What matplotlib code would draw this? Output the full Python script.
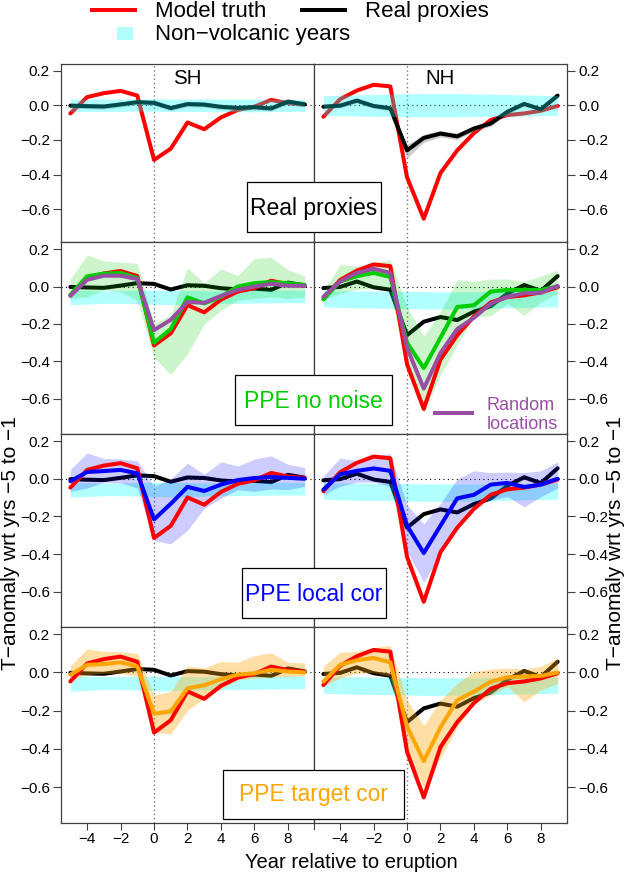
import matplotlib
matplotlib.use("Agg")
import matplotlib.pyplot as plt
from matplotlib.lines import Line2D
from matplotlib.patches import Rectangle
from matplotlib.ticker import FuncFormatter

plt.rcParams['font.family'] = ['Liberation Sans', 'DejaVu Sans']

# ---------------- data ----------------
years = [-5, -4, -3, -2, -1, 0, 1, 2, 3, 4, 5, 6, 7, 8, 9]

truth_sh = [-0.047, 0.047, 0.070, 0.083, 0.056, -0.315, -0.250, -0.099, -0.138, -0.070, -0.027, -0.008, 0.031, 0.012, 0.004]
truth_nh = [-0.066, 0.035, 0.085, 0.118, 0.109, -0.415, -0.654, -0.390, -0.260, -0.160, -0.085, -0.056, -0.047, -0.031, -0.004]

proxy_sh = [-0.002, -0.005, -0.007, 0.005, 0.018, 0.014, -0.016, 0.007, 0.004, -0.009, -0.015, -0.011, -0.018, 0.021, 0.006]
proxy_nh = [-0.008, -0.002, 0.027, -0.004, -0.017, -0.260, -0.188, -0.163, -0.179, -0.134, -0.105, -0.037, 0.008, -0.023, 0.056]
proxy_sh_lo = [-0.017, -0.020, -0.022, -0.010, 0.003, -0.001, -0.031, -0.008, -0.011, -0.024, -0.030, -0.026, -0.033, 0.006, -0.009]
proxy_sh_hi = [0.013, 0.010, 0.008, 0.020, 0.033, 0.029, -0.001, 0.022, 0.019, 0.006, 0.000, 0.004, -0.003, 0.036, 0.021]
proxy_nh_lo = [-0.020, -0.015, 0.014, -0.017, -0.033, -0.305, -0.213, -0.183, -0.197, -0.150, -0.120, -0.050, -0.005, -0.036, 0.043]
proxy_nh_hi = [0.004, 0.011, 0.040, 0.009, -0.001, -0.225, -0.168, -0.145, -0.161, -0.118, -0.090, -0.024, 0.021, -0.010, 0.069]

# non-volcanic years band (top row)
nv_sh_top_hi = [0.035, 0.036, 0.036, 0.036, 0.037, 0.038, 0.036, 0.036, 0.037, 0.036, 0.035, 0.035, 0.034, 0.035, 0.033]
nv_sh_top_lo = [-0.035, -0.036, -0.036, -0.035, -0.033, -0.034, -0.037, -0.036, -0.035, -0.036, -0.037, -0.038, -0.037, -0.036, -0.035]
nv_nh_top_hi = [0.055, 0.058, 0.060, 0.062, 0.064, 0.066, 0.068, 0.068, 0.068, 0.066, 0.064, 0.062, 0.060, 0.058, 0.056]
nv_nh_top_lo = [-0.058, -0.060, -0.062, -0.063, -0.064, -0.066, -0.066, -0.066, -0.066, -0.065, -0.064, -0.063, -0.062, -0.060, -0.058]
# non-volcanic years band (PPE rows)
nv_sh_hi = [-0.020, -0.021, -0.022, -0.022, -0.020, -0.019, -0.020, -0.021, -0.022, -0.022, -0.021, -0.020, -0.020, -0.019, -0.020]
nv_sh_lo = [-0.098, -0.094, -0.090, -0.090, -0.092, -0.095, -0.096, -0.094, -0.092, -0.090, -0.090, -0.088, -0.087, -0.086, -0.086]
nv_nh_hi = [-0.022, -0.022, -0.023, -0.024, -0.025, -0.026, -0.027, -0.028, -0.028, -0.028, -0.027, -0.026, -0.025, -0.024, -0.023]
nv_nh_lo = [-0.108, -0.112, -0.114, -0.115, -0.116, -0.118, -0.120, -0.120, -0.119, -0.118, -0.116, -0.114, -0.112, -0.110, -0.108]

# PPE no noise
noise_sh = [-0.045, 0.055, 0.069, 0.073, 0.045, -0.300, -0.227, -0.058, -0.090, -0.055, 0.000, 0.018, 0.024, 0.018, 0.009]
noise_sh_lo = [-0.064, -0.055, -0.018, -0.027, -0.073, -0.380, -0.470, -0.360, -0.200, -0.127, -0.073, -0.064, -0.055, -0.064, -0.055]
noise_sh_hi = [0.040, 0.170, 0.136, 0.130, 0.124, -0.200, -0.150, 0.100, 0.018, 0.095, 0.058, 0.150, 0.155, 0.090, 0.058]
noise_nh = [-0.069, 0.027, 0.055, 0.073, 0.051, -0.300, -0.436, -0.273, -0.109, -0.100, -0.027, -0.018, -0.018, -0.018, 0.000]
noise_nh_lo = [-0.073, -0.036, -0.015, -0.010, -0.018, -0.455, -0.673, -0.473, -0.310, -0.164, -0.155, -0.091, -0.155, -0.082, -0.036]
noise_nh_hi = [-0.030, 0.118, 0.109, 0.130, 0.142, -0.109, -0.264, -0.136, 0.036, 0.027, 0.040, 0.040, 0.027, 0.055, 0.087]
# random locations
random_sh = [-0.050, 0.036, 0.058, 0.058, 0.040, -0.233, -0.178, -0.082, -0.087, -0.050, -0.018, 0.000, 0.015, 0.004, 0.004]
random_nh = [-0.055, 0.027, 0.073, 0.095, 0.073, -0.327, -0.545, -0.355, -0.227, -0.167, -0.091, -0.055, -0.036, -0.033, 0.004]

# PPE local cor
local_sh = [-0.013, 0.036, 0.041, 0.047, 0.029, -0.216, -0.133, -0.043, -0.065, -0.031, -0.007, 0.004, 0.009, 0.005, 0.000]
local_sh_lo = [-0.067, -0.049, -0.018, -0.022, -0.049, -0.328, -0.346, -0.274, -0.157, -0.103, -0.058, -0.067, -0.054, -0.058, -0.040]
local_sh_hi = [0.050, 0.137, 0.108, 0.105, 0.095, -0.040, 0.000, 0.083, 0.023, 0.090, 0.068, 0.105, 0.122, 0.077, 0.060]
local_nh = [-0.058, 0.024, 0.042, 0.055, 0.042, -0.249, -0.395, -0.249, -0.104, -0.085, -0.031, -0.022, -0.044, -0.031, 0.000]
local_nh_lo = [-0.085, -0.040, -0.018, -0.018, -0.040, -0.385, -0.550, -0.400, -0.258, -0.149, -0.113, -0.095, -0.149, -0.095, -0.049]
local_nh_hi = [0.015, 0.110, 0.096, 0.124, 0.133, -0.140, -0.240, -0.130, 0.000, 0.042, 0.033, 0.036, 0.033, 0.042, 0.090]

# PPE target cor
target_sh = [-0.012, 0.040, 0.044, 0.053, 0.032, -0.216, -0.204, -0.083, -0.067, -0.035, -0.012, -0.004, 0.014, 0.005, 0.000]
target_sh_lo = [-0.039, -0.012, -0.004, -0.004, -0.021, -0.313, -0.322, -0.198, -0.136, -0.083, -0.039, -0.030, -0.025, -0.021, -0.018]
target_sh_hi = [0.035, 0.124, 0.110, 0.108, 0.100, -0.119, -0.100, 0.035, 0.023, 0.058, 0.053, 0.088, 0.103, 0.053, 0.050]
target_nh = [-0.048, 0.040, 0.064, 0.076, 0.053, -0.283, -0.464, -0.287, -0.145, -0.100, -0.048, -0.025, -0.021, -0.018, 0.000]
target_nh_lo = [-0.074, -0.030, -0.004, 0.000, -0.021, -0.410, -0.605, -0.446, -0.287, -0.163, -0.119, -0.074, -0.154, -0.092, -0.057]
target_nh_hi = [0.032, 0.106, 0.110, 0.130, 0.142, -0.145, -0.278, -0.145, -0.057, 0.005, 0.018, 0.023, 0.018, 0.032, 0.076]

row_labels = ["Real proxies", "PPE no noise", "PPE local cor", "PPE target cor"]
hemi_labels = ["SH", "NH"]
xticks = [-4, -2, 0, 2, 4, 6, 8]
yticks = [0.2, 0.0, -0.2, -0.4, -0.6]

# ---------------- styles ----------------
C_RED = "#FF0000"
C_GREEN = "#00CD00"
C_PURPLE = "#984EA3"
C_BLUE = "#0000FF"
C_ORANGE = "#FFA500"
LW = 2.9
SPINE = "#404040"

W, H = 625, 874
fig = plt.figure(figsize=(W / 100, H / 100), dpi=100)

# panel geometry in pixels: (top, bottom) for rows, (left, right) for cols
row_px = [(64, 242), (242, 434), (434, 627), (627, 823)]
col_px = [(61, 314), (314, 567)]

method_data = [
    None,
    (C_GREEN, 0.20, {"SH": (noise_sh, noise_sh_lo, noise_sh_hi), "NH": (noise_nh, noise_nh_lo, noise_nh_hi)}),
    (C_BLUE, 0.20, {"SH": (local_sh, local_sh_lo, local_sh_hi), "NH": (local_nh, local_nh_lo, local_nh_hi)}),
    (C_ORANGE, 0.35, {"SH": (target_sh, target_sh_lo, target_sh_hi), "NH": (target_nh, target_nh_lo, target_nh_hi)}),
]
truth = {"SH": truth_sh, "NH": truth_nh}
proxy = {"SH": proxy_sh, "NH": proxy_nh}
proxy_band = {"SH": (proxy_sh_lo, proxy_sh_hi), "NH": (proxy_nh_lo, proxy_nh_hi)}
nv_top = {"SH": (nv_sh_top_lo, nv_sh_top_hi), "NH": (nv_nh_top_lo, nv_nh_top_hi)}
nv_ppe = {"SH": (nv_sh_lo, nv_sh_hi), "NH": (nv_nh_lo, nv_nh_hi)}
rand = {"SH": random_sh, "NH": random_nh}


def fmt(v, pos):
    s = "%.1f" % v
    if s == "-0.0":
        s = "0.0"
    return s.replace("-", "\u2212")


line_kw = dict(lw=LW, solid_capstyle="round", solid_joinstyle="round")

for r, (t, b) in enumerate(row_px):
    for c, (l, rr) in enumerate(col_px):
        hemi = hemi_labels[c]
        ax = fig.add_axes([l / W, 1 - b / H, (rr - l) / W, (b - t) / H])
        ax.set_xlim(-5.56, 9.56)
        ax.set_ylim(-0.788, 0.238)
        ax.axhline(0, color="black", lw=0.8, ls=(0, (1, 3)), zorder=1)
        ax.axvline(0, color="#777777", lw=1.0, ls=(0, (1, 2)), zorder=1)
        if r == 0:
            ax.plot(years, truth[hemi], color=C_RED, zorder=2, **line_kw)
            lo, hi = proxy_band[hemi]
            ax.fill_between(years, lo, hi, color="grey", alpha=0.4, lw=0, zorder=3)
            ax.plot(years, proxy[hemi], color="black", zorder=4, **line_kw)
            lo, hi = nv_top[hemi]
            ax.fill_between(years, lo, hi, color="cyan", alpha=0.3, lw=0, zorder=5)
            ax.text(2, 0.123, hemi, ha="center", va="baseline", fontsize=14.8)
        else:
            col, alpha, dd = method_data[r]
            mean, lo, hi = dd[hemi]
            ax.plot(years, proxy[hemi], color="black", zorder=2, **line_kw)
            nlo, nhi = nv_ppe[hemi]
            ax.fill_between(years, nlo, nhi, color="cyan", alpha=0.3, lw=0, zorder=3)
            ax.fill_between(years, lo, hi, color=col, alpha=alpha, lw=0, zorder=4)
            ax.plot(years, truth[hemi], color=C_RED, zorder=5, **line_kw)
            ax.plot(years, mean, color=col, zorder=6, **line_kw)
            if r == 1:
                ax.plot(years, rand[hemi], color=C_PURPLE, zorder=7, **line_kw)
        for sp in ax.spines.values():
            sp.set_color(SPINE)
            sp.set_linewidth(0.9)
        ax.set_yticks(yticks)
        ax.yaxis.set_major_formatter(FuncFormatter(fmt))
        ax.tick_params(axis="y", direction="out", length=5.5, width=0.8, color=SPINE,
                       labelsize=11, pad=2.5)
        if c == 0:
            ax.yaxis.tick_left()
        else:
            ax.yaxis.tick_right()
        if r == 3:
            ax.set_xticks(xticks)
            ax.xaxis.set_major_formatter(FuncFormatter(lambda v, p: ("%d" % v).replace("-", "\u2212")))
            ax.tick_params(axis="x", direction="out", length=5.2, width=0.8, color=SPINE,
                           labelsize=11, pad=1.0)
        else:
            ax.tick_params(axis="x", bottom=False, labelbottom=False)

# ---------------- overlay (legend, boxes, labels) ----------------
ov = fig.add_axes([0, 0, 1, 1], zorder=20)
ov.set_xlim(0, W)
ov.set_ylim(H, 0)
ov.axis("off")
ov.patch.set_alpha(0)

# top legend
ov.add_line(Line2D([92, 135], [10, 10], color=C_RED, lw=LW))
ov.text(155, 16.7, "Model truth", fontsize=16, va="baseline", ha="left")
ov.add_line(Line2D([302, 345], [10, 10], color="black", lw=LW))
ov.text(365, 16.7, "Real proxies", fontsize=16, va="baseline", ha="left")
ov.add_patch(Rectangle((117, 27), 16, 13, facecolor=(0.7, 1.0, 1.0), edgecolor="none"))
ov.text(155, 40, "Non\u2212volcanic years", fontsize=16, va="baseline", ha="left")

# method boxes
boxes = [(247, 181.7, 380.7, 232), (235, 375, 392, 425), (241.7, 568.3, 386, 618.3), (223, 770, 404, 819)]
box_colors = ["black", C_GREEN, C_BLUE, C_ORANGE]
for (bl, bt, br, bb), lab, bc in zip(boxes, row_labels, box_colors):
    ov.add_patch(Rectangle((bl, bt), br - bl, bb - bt, facecolor="white", edgecolor="black", lw=0.9))
    ov.text((bl + br) / 2, bb - 17.5, lab, color=bc, fontsize=16.5, ha="center", va="baseline")

# random locations legend
ov.add_line(Line2D([435, 471.7], [412.7, 412.7], color=C_PURPLE, lw=LW))
ov.text(487, 410, "Random", color=C_PURPLE, fontsize=13, ha="left", va="baseline")
ov.text(487, 429, "locations", color=C_PURPLE, fontsize=13, ha="left", va="baseline")

# small divider tick below bottom
ov.add_line(Line2D([314, 314], [823, 829], color=SPINE, lw=0.8))

# axis labels
ylab = "T\u2212anomaly wrt yrs \u22125 to \u22121"
ov.text(0.5, 543, ylab, rotation=90, fontsize=15, ha="left", va="center")
ov.text(606, 543, ylab, rotation=90, fontsize=15, ha="left", va="center")
ov.text(351, 868.5, "Year relative to eruption", fontsize=14.5, ha="center", va="baseline")

fig.savefig("out.png", dpi=100)
